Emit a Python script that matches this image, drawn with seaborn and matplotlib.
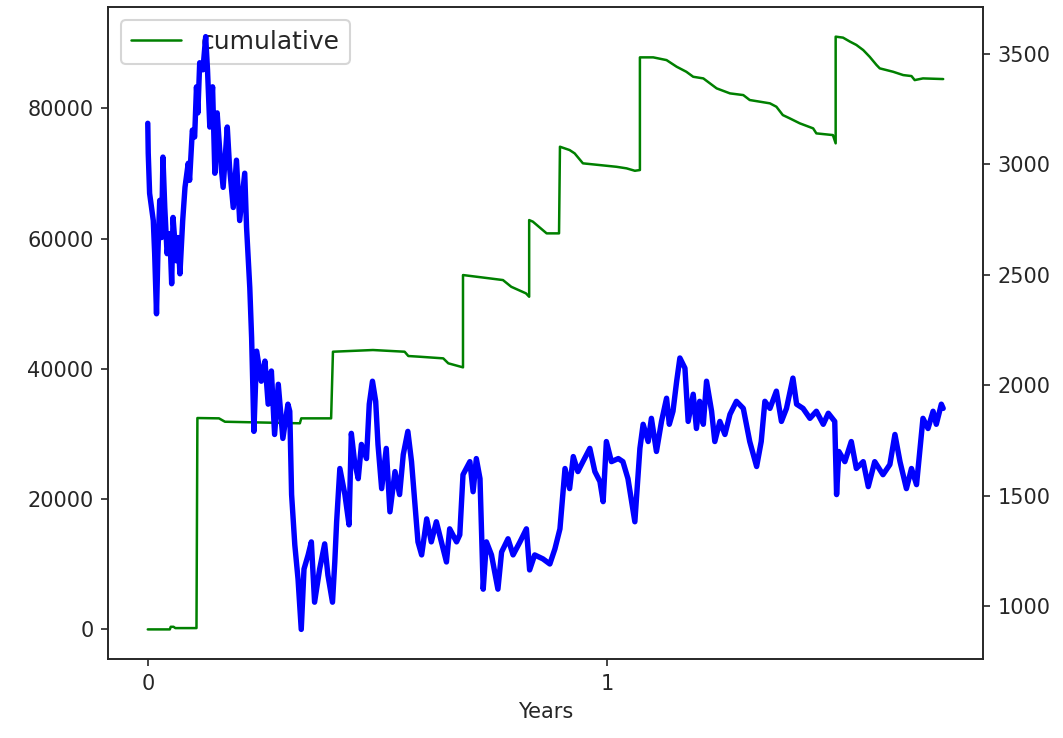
import matplotlib
matplotlib.use("Agg")
import matplotlib.pyplot as plt
import seaborn as sns
import pandas as pd
from matplotlib.ticker import MultipleLocator

# cumulative (left axis)
cum_years = [0.000, 0.048, 0.050, 0.056, 0.060, 0.106, 0.108, 0.155, 0.168, 0.331, 0.334,
             0.399, 0.403, 0.490, 0.559, 0.567, 0.592, 0.643, 0.654, 0.686, 0.686,
             0.744, 0.773, 0.791, 0.823, 0.830, 0.830, 0.838, 0.868, 0.895, 0.897,
             0.918, 0.929, 0.947, 1.020, 1.042, 1.060, 1.071, 1.071, 1.100, 1.129,
             1.151, 1.172, 1.187, 1.209, 1.238, 1.267, 1.296, 1.310, 1.354, 1.368,
             1.382, 1.397, 1.419, 1.448, 1.455, 1.491, 1.497, 1.497, 1.513, 1.528,
             1.542, 1.557, 1.571, 1.586, 1.593, 1.622, 1.644, 1.662, 1.669, 1.687, 1.731]
cum_values = [0, 0, 400, 400, 200, 200, 32450, 32400, 31880, 31640, 32400,
              32400, 42630, 42890, 42630, 41970, 41860, 41610, 40850, 40230, 54400,
              53890, 53630, 52600, 51590, 51070, 62840, 62600, 60800, 60800, 74100,
              73590, 73080, 71550, 71020, 70780, 70410, 70520, 87820, 87820, 87400,
              86380, 85610, 84840, 84590, 83060, 82290, 82030, 81270, 80760, 80240,
              78960, 78460, 77690, 76920, 76150, 75890, 74620, 91000, 90850, 90240,
              89730, 88940, 87910, 86640, 86130, 85610, 85100, 84950, 84330, 84590, 84490]

# price series (right axis)
price_years = [
    0.000, 0.001, 0.004, 0.012, 0.015, 0.019, 0.022, 0.026, 0.030, 0.033, 0.037, 0.042,
    0.048, 0.052, 0.055, 0.062, 0.066, 0.070, 0.076, 0.081, 0.088, 0.091, 0.097, 0.102,
    0.106, 0.109, 0.113, 0.120, 0.126, 0.130, 0.135, 0.141, 0.146, 0.151, 0.157, 0.164,
    0.173, 0.178, 0.186, 0.193, 0.200, 0.211, 0.215, 0.222, 0.226, 0.231, 0.237, 0.247,
    0.255, 0.262, 0.269, 0.276, 0.284, 0.294, 0.305, 0.309, 0.313, 0.320, 0.327, 0.334,
    0.340, 0.349, 0.356, 0.363, 0.374, 0.385, 0.392, 0.402, 0.407, 0.411, 0.418, 0.429,
    0.438, 0.443, 0.450, 0.458, 0.465, 0.476, 0.482, 0.489, 0.496, 0.501, 0.509, 0.519,
    0.527, 0.538, 0.548, 0.556, 0.566, 0.574, 0.581, 0.588, 0.596, 0.607, 0.617, 0.628,
    0.639, 0.650, 0.657, 0.672, 0.679, 0.686, 0.701, 0.708, 0.715, 0.723, 0.730, 0.737,
    0.748, 0.762, 0.770, 0.784, 0.795, 0.810, 0.824, 0.831, 0.842, 0.860, 0.875, 0.886,
    0.897, 0.908, 0.918, 0.926, 0.936, 0.947, 0.962, 0.973, 0.984, 0.991, 0.998, 1.009,
    1.024, 1.034, 1.045, 1.060, 1.071, 1.078, 1.089, 1.096, 1.107, 1.118, 1.129, 1.135,
    1.143, 1.151, 1.158, 1.169, 1.176, 1.187, 1.194, 1.201, 1.209, 1.216, 1.227, 1.234,
    1.245, 1.256, 1.267, 1.281, 1.296, 1.310, 1.325, 1.335, 1.343, 1.354, 1.368, 1.379,
    1.390, 1.404, 1.412, 1.426, 1.441, 1.455, 1.470, 1.481, 1.495, 1.499, 1.504, 1.517,
    1.531, 1.542, 1.557, 1.568, 1.582, 1.600, 1.615, 1.626, 1.637, 1.651, 1.662, 1.673,
    1.680, 1.687, 1.698, 1.709, 1.716, 1.727, 1.731]
price_values = [
    3185, 3050, 2868, 2745, 2595, 2323, 2595, 2836, 2668, 3032, 2804, 2595,
    2686, 2459, 2759, 2563, 2668, 2504, 2745, 2895, 3004, 2927, 3154, 3123,
    3350, 3232, 3459, 3427, 3577, 3427, 3168, 3350, 2959, 3232, 3050, 2895,
    3168, 2986, 2804, 3018, 2745, 2959, 2713, 2441, 2214, 1791, 2154, 2018,
    2109, 1914, 2064, 1777, 2004, 1759, 1914, 1882, 1505, 1277, 1123, 895,
    1168, 1232, 1291, 1018, 1168, 1282, 1141, 1018, 1200, 1382, 1623, 1505,
    1368, 1782, 1654, 1577, 1732, 1668, 1914, 2018, 1927, 1732, 1532, 1714,
    1427, 1609, 1505, 1686, 1791, 1654, 1473, 1291, 1232, 1395, 1291, 1382,
    1291, 1200, 1350, 1291, 1323, 1595, 1654, 1518, 1668, 1577, 1077, 1291,
    1232, 1077, 1245, 1305, 1232, 1291, 1350, 1164, 1232, 1214, 1191, 1259,
    1350, 1623, 1532, 1677, 1609, 1654, 1714, 1609, 1564, 1473, 1745, 1654,
    1668, 1654, 1577, 1382, 1714, 1823, 1745, 1850, 1700, 1836, 1941, 1823,
    1882, 2018, 2123, 2077, 1836, 1959, 1804, 1927, 1823, 2018, 1882, 1745,
    1836, 1777, 1868, 1927, 1895, 1745, 1632, 1745, 1927, 1895, 1973, 1836,
    1895, 2032, 1914, 1895, 1850, 1882, 1823, 1873, 1836, 1505, 1700, 1654,
    1745, 1623, 1654, 1541, 1654, 1595, 1641, 1777, 1654, 1532, 1623, 1550,
    1700, 1850, 1804, 1882, 1823, 1914, 1895]

cum_df = pd.DataFrame({"Years": cum_years, "cumulative": cum_values})
price_df = pd.DataFrame({"Years": price_years, "price": price_values})

sns.set_style("ticks")
plt.rcParams["font.family"] = ["DejaVu Sans"]

fig, ax = plt.subplots(figsize=(1063 / 150, 738 / 150), dpi=150)
fig.subplots_adjust(left=0.1016, right=0.9247, bottom=0.107, top=0.9905)

sns.lineplot(data=cum_df, x="Years", y="cumulative", ax=ax, color="green",
             linewidth=1.2, estimator=None, sort=False, label="cumulative")
ax.set_ylabel("")
ax.xaxis.set_major_locator(MultipleLocator(1))
ax.legend(loc="upper left", fontsize=12)

ax2 = ax.twinx()
sns.lineplot(data=price_df, x="Years", y="price", ax=ax2, color="blue",
             linewidth=2.6, estimator=None, sort=False)
ax2.set_ylabel("")
ax.set_xlabel("Years")

fig.savefig("out.png", dpi=150)
